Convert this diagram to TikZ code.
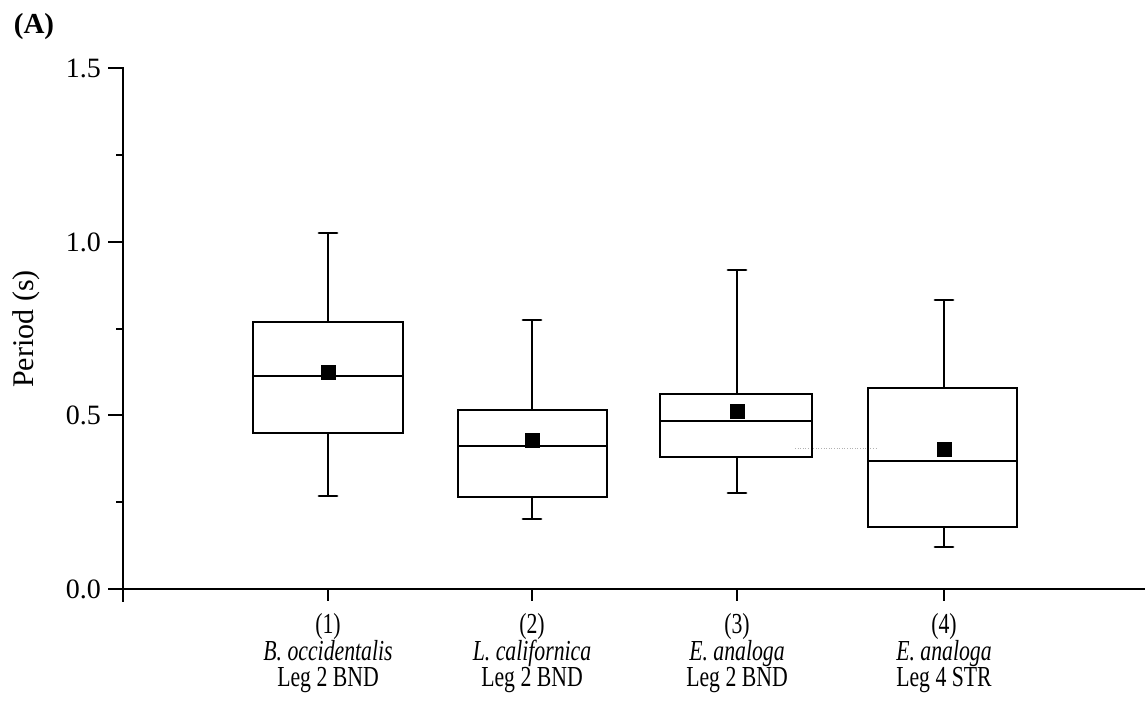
\documentclass[tikz,border=0pt]{standalone}
\usepackage{fontspec}
\setmainfont{Liberation Serif}
\newcommand{\sqz}[1]{\scalebox{0.75}[1]{#1}}
\tikzset{
  boxline/.style={line width=2.8pt},
  axisline/.style={line width=1.8pt},
  ticklab/.style={font=\fontsize{28}{30}\selectfont, anchor=east, inner sep=0pt},
  catlab/.style={font=\fontsize{29}{27}\selectfont, anchor=base, inner sep=0pt},
  meanmark/.style={fill=black, draw=none}
}
\begin{document}
\begin{tikzpicture}[x=1pt,y=-1pt]
\useasboundingbox (0,0) rectangle (1145,706);
% title
\node[font=\fontsize{29}{30}\selectfont\bfseries, inner sep=0pt] (title) at (34,27) {(A)};
% y-axis
\draw[axisline] (108,68) -- (123,68) -- (123,602);
\foreach \yy in {242,415,589} \draw[axisline] (108,\yy) -- (123,\yy);
\foreach \yy in {155,329,502} \draw[axisline] (116,\yy) -- (123,\yy);
\node[ticklab] (l15) at (101,68) {1.5};
\node[ticklab] (l10) at (101,242) {1.0};
\node[ticklab] (l05) at (101,415) {0.5};
\node[ticklab] (l00) at (101,589) {0.0};
\node[rotate=90, font=\fontsize{30}{30}\selectfont, inner sep=0pt] (ylab) at (26,329) {Period (s)};
% x-axis
\draw[axisline] (108,589) -- (1145,589);
\foreach \xx in {328,532,737,944} \draw[axisline] (\xx,589) -- (\xx,601);
% faint dotted artefact
\draw[gray!60, line width=0.6pt, dotted] (795,448) -- (878,448);
% boxes
\foreach \cx/\lx/\rx/\qt/\md/\qb/\wt/\wb/\mn in {
  328/253/403/322/376/433/233/496/372,
  532/458/607/410/446/497/320/519/440,
  737/660/812/394/421/457/270/493/411,
  944/868/1017/388/461/527/300/547/449}{
  \draw[boxline] (\lx,\qt) rectangle (\rx,\qb);
  \draw[boxline] (\lx,\md) -- (\rx,\md);
  \draw[boxline] (\cx,\qt) -- (\cx,\wt);
  \draw[boxline] (\cx,\qb) -- (\cx,\wb);
  \draw[boxline, line cap=round] (\cx-9,\wt) -- (\cx+9,\wt);
  \draw[boxline, line cap=round] (\cx-9,\wb) -- (\cx+9,\wb);
  \fill[meanmark] (\cx-7.5,\mn-7.5) rectangle (\cx+7.5,\mn+7.5);
}
% category labels
\foreach \nm/\cx/\num/\sp/\leg in {
  c1/328/(1)/B. occidentalis/Leg 2 BND,
  c2/532/(2)/L. californica/Leg 2 BND,
  c3/737/(3)/E. analoga/Leg 2 BND,
  c4/944/(4)/E. analoga/Leg 4 STR}{
  \node[catlab] (\nm a) at (\cx,633) {\sqz{\num}};
  \node[catlab] (\nm b) at (\cx,660) {\sqz{\itshape \sp}};
  \node[catlab] (\nm c) at (\cx,686) {\sqz{\leg}};
}
\end{tikzpicture}
\end{document}
